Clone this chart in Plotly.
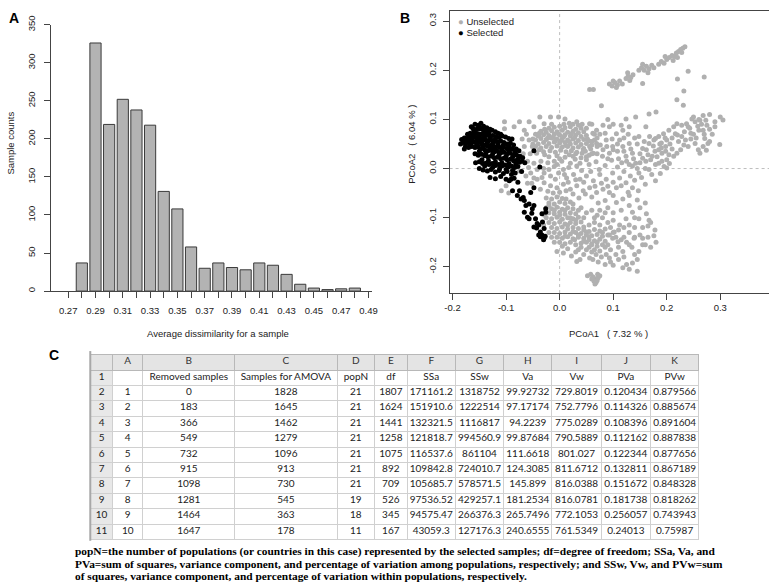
import plotly.graph_objects as go

W, H = 775, 587

# ---------------- Panel A data ----------------
bin_centers = [0.28, 0.29, 0.30, 0.31, 0.32, 0.33, 0.34, 0.35, 0.36, 0.37, 0.38,
               0.39, 0.40, 0.41, 0.42, 0.43, 0.44, 0.45, 0.46, 0.47, 0.48]
sample_counts = [37, 326, 219, 252, 238, 218, 131, 108, 58, 30, 37,
                 31, 28, 37, 34, 22, 9, 4, 2, 3, 4]
hist_tick_vals = [0.27, 0.28, 0.29, 0.30, 0.31, 0.32, 0.33, 0.34, 0.35, 0.36, 0.37, 0.38,
                  0.39, 0.40, 0.41, 0.42, 0.43, 0.44, 0.45, 0.46, 0.47, 0.48, 0.49]
hist_tick_text = ["0.27", "", "0.29", "", "0.31", "", "0.33", "", "0.35", "", "0.37", "",
                  "0.39", "", "0.41", "", "0.43", "", "0.45", "", "0.47", "", "0.49"]
count_ticks = [0, 50, 100, 150, 200, 250, 300, 350]

# ---------------- Panel B data ----------------
selected_pts = [
    (-0.165, 0.085), (-0.158, 0.09), (-0.152, 0.088), (-0.147, 0.092), (-0.142, 0.086), (-0.136, 0.083),
    (-0.13, 0.08), (-0.16, 0.078), (-0.155, 0.08), (-0.149, 0.081), (-0.143, 0.079), (-0.138, 0.076),
    (-0.132, 0.073), (-0.126, 0.078), (-0.12, 0.075), (-0.115, 0.072), (-0.11, 0.07),
    (-0.172, 0.07), (-0.167, 0.072), (-0.162, 0.07), (-0.157, 0.073), (-0.152, 0.071), (-0.147, 0.07),
    (-0.142, 0.071), (-0.137, 0.068), (-0.131, 0.066), (-0.125, 0.067), (-0.119, 0.065), (-0.113, 0.063),
    (-0.107, 0.066), (-0.101, 0.064), (-0.095, 0.061), (-0.089, 0.06),
    (-0.183, 0.059), (-0.178, 0.062), (-0.173, 0.06), (-0.168, 0.063), (-0.163, 0.061), (-0.158, 0.064),
    (-0.153, 0.062), (-0.148, 0.06), (-0.143, 0.062), (-0.138, 0.058), (-0.133, 0.056), (-0.128, 0.058),
    (-0.122, 0.055), (-0.116, 0.054), (-0.11, 0.056), (-0.104, 0.053), (-0.098, 0.05), (-0.092, 0.052),
    (-0.086, 0.048),
    (-0.18, 0.053), (-0.175, 0.052), (-0.17, 0.055), (-0.165, 0.052), (-0.16, 0.054), (-0.155, 0.051),
    (-0.15, 0.053), (-0.145, 0.05), (-0.14, 0.048), (-0.135, 0.046), (-0.129, 0.047), (-0.123, 0.044),
    (-0.117, 0.045), (-0.111, 0.043), (-0.105, 0.044), (-0.099, 0.041), (-0.093, 0.042), (-0.087, 0.039),
    (-0.081, 0.04), (-0.076, 0.036),
    (-0.176, 0.045), (-0.17, 0.043), (-0.164, 0.045), (-0.158, 0.043), (-0.152, 0.044), (-0.146, 0.041),
    (-0.14, 0.038), (-0.134, 0.036), (-0.128, 0.037), (-0.122, 0.034), (-0.116, 0.035), (-0.11, 0.032),
    (-0.104, 0.033), (-0.098, 0.03), (-0.092, 0.031), (-0.086, 0.028), (-0.08, 0.027), (-0.074, 0.025),
    (-0.069, 0.022),
    (-0.158, 0.03), (-0.152, 0.027), (-0.146, 0.029), (-0.14, 0.026), (-0.134, 0.024), (-0.128, 0.025),
    (-0.122, 0.022), (-0.116, 0.023), (-0.11, 0.02), (-0.104, 0.021), (-0.098, 0.018), (-0.092, 0.019),
    (-0.086, 0.016), (-0.08, 0.017), (-0.075, 0.013), (-0.07, 0.015),
    (-0.157, 0.012), (-0.15, 0.014), (-0.144, 0.01), (-0.138, 0.011), (-0.132, 0.008), (-0.126, 0.01),
    (-0.12, 0.006), (-0.114, 0.008), (-0.108, 0.005), (-0.102, 0.007), (-0.096, 0.003), (-0.09, 0.005),
    (-0.084, 0.002),
    (-0.15, 0.0), (-0.143, -0.003), (-0.135, -0.005), (-0.128, -0.002), (-0.12, -0.007), (-0.113, -0.004),
    (-0.105, -0.01), (-0.098, -0.006), (-0.09, -0.012), (-0.083, -0.009), (-0.071, -0.006),
    (-0.13, -0.018), (-0.12, -0.021), (-0.11, -0.016), (-0.1, -0.022), (-0.094, -0.025), (-0.085, -0.02),
    (-0.078, -0.028), (-0.185, 0.05), (-0.178, 0.04),
    (-0.162, 0.082), (-0.15, 0.085), (-0.14, 0.082), (-0.17, 0.065), (-0.16, 0.067), (-0.15, 0.066),
    (-0.14, 0.065), (-0.13, 0.062), (-0.12, 0.06), (-0.175, 0.057), (-0.165, 0.057), (-0.155, 0.057),
    (-0.145, 0.055), (-0.135, 0.052), (-0.125, 0.05), (-0.115, 0.049), (-0.105, 0.048), (-0.095, 0.046),
    (-0.168, 0.048), (-0.155, 0.047), (-0.143, 0.045), (-0.13, 0.041), (-0.12, 0.04), (-0.108, 0.038),
    (-0.095, 0.036), (-0.083, 0.034), (-0.15, 0.035), (-0.138, 0.031), (-0.125, 0.03), (-0.113, 0.028),
    (-0.1, 0.025), (-0.088, 0.023), (-0.077, 0.02), (-0.145, 0.018), (-0.133, 0.016), (-0.12, 0.014),
    (-0.108, 0.012), (-0.095, 0.01), (-0.082, 0.009), (-0.14, 0.005), (-0.125, 0.002), (-0.112, 0.0),
    (-0.1, -0.002), (-0.088, -0.004), (-0.078, 0.004),
    (-0.048, 0.036), (-0.037, 0.003), (-0.065, 0.012),
    (-0.088, -0.045), (-0.079, -0.055), (-0.072, -0.062), (-0.066, -0.065), (-0.063, -0.075), (-0.066, -0.089),
    (-0.06, -0.099), (-0.057, -0.102), (-0.051, -0.082), (-0.048, -0.075), (-0.045, -0.102), (-0.042, -0.112),
    (-0.039, -0.115), (-0.036, -0.129), (-0.033, -0.135), (-0.029, -0.142), (-0.029, -0.122), (-0.026, -0.082),
    (-0.033, -0.092), (-0.048, -0.039), (-0.054, -0.049), (-0.026, -0.089), (-0.036, -0.139), (-0.039, -0.135),
    (-0.048, -0.119), (-0.043, -0.121), (-0.075, -0.045), (-0.068, -0.059), (-0.057, -0.072), (-0.052, -0.091),
    (-0.032, -0.109), (-0.091, -0.022), (-0.03, -0.145), (-0.027, -0.138),
]

unselected_pts = [
    # central cluster
    (-0.01, 0.084), (0.0, 0.086), (0.01, 0.083), (0.02, 0.085), (-0.02, 0.082), (0.03, 0.08),
    (-0.035, 0.076), (-0.025, 0.074), (-0.015, 0.077), (-0.005, 0.075), (0.005, 0.078), (0.015, 0.074),
    (0.025, 0.076), (0.035, 0.073), (0.045, 0.075),
    (-0.04, 0.066), (-0.03, 0.069), (-0.02, 0.067), (-0.01, 0.07), (0.0, 0.068), (0.01, 0.069),
    (0.02, 0.066), (0.03, 0.068), (0.04, 0.065), (0.05, 0.067),
    (-0.045, 0.058), (-0.035, 0.061), (-0.025, 0.059), (-0.015, 0.062), (-0.005, 0.06), (0.005, 0.061),
    (0.015, 0.058), (0.025, 0.06), (0.035, 0.057), (0.045, 0.059), (0.055, 0.056),
    (-0.04, 0.05), (-0.03, 0.053), (-0.02, 0.051), (-0.01, 0.054), (0.0, 0.052), (0.01, 0.053),
    (0.02, 0.05), (0.03, 0.052), (0.04, 0.049), (0.05, 0.051), (0.06, 0.048),
    (-0.035, 0.042), (-0.025, 0.045), (-0.015, 0.043), (-0.005, 0.046), (0.005, 0.044), (0.015, 0.045),
    (0.025, 0.042), (0.035, 0.044), (0.045, 0.041),
    (-0.03, 0.034), (-0.018, 0.036), (-0.008, 0.033), (0.002, 0.037), (0.012, 0.034), (0.022, 0.036),
    (0.032, 0.033), (0.042, 0.031),
    (-0.02, 0.024), (-0.005, 0.026), (0.01, 0.023), (0.025, 0.025), (0.04, 0.022), (0.055, 0.027),
    (-0.012, 0.064), (0.008, 0.065), (0.018, 0.055), (-0.008, 0.056), (0.012, 0.047), (-0.002, 0.071),
    (0.022, 0.071), (0.028, 0.063), (-0.022, 0.062), (0.003, 0.057),
    (-0.038, 0.072), (-0.028, 0.08), (0.008, 0.09), (0.018, 0.092), (0.04, 0.082), (0.052, 0.06),
    (0.06, 0.055), (-0.045, 0.045), (-0.038, 0.038), (0.048, 0.035), (0.058, 0.04), (0.065, 0.058),
    (-0.028, 0.028), (0.018, 0.028), (0.03, 0.03),
    (-0.045, 0.07), (-0.05, 0.06), (-0.05, 0.05), (0.065, 0.07), (0.07, 0.045), (0.06, 0.03),
    (0.05, 0.024), (-0.01, 0.015), (0.0, 0.02), (-0.015, 0.09), (0.025, 0.09), (0.035, 0.088),
    # left sparse
    (-0.057, 0.095), (-0.066, 0.078), (-0.048, 0.085), (-0.039, 0.068), (-0.057, 0.058), (-0.066, 0.045),
    (-0.051, 0.045), (-0.043, 0.031), (-0.06, 0.015), (-0.048, 0.011), (-0.042, -0.002), (-0.054, -0.009),
    (-0.048, -0.019), (-0.063, -0.015), (-0.075, -0.005), (-0.109, -0.045), (-0.103, 0.095), (-0.085, 0.085),
    (-0.103, 0.081), (-0.075, 0.095), (-0.029, 0.091), (-0.037, 0.105), (-0.042, -0.022),
    (-0.07, 0.06), (-0.062, 0.07), (-0.055, 0.03), (-0.068, 0.03), (-0.058, 0.002), (-0.035, 0.015),
    (-0.03, 0.0), (-0.033, -0.018), (-0.06, -0.03), (-0.052, -0.03), (-0.1, -0.035), (-0.095, -0.05),
    # above central
    (-0.017, 0.105), (-0.002, 0.105), (0.01, 0.101), (0.032, 0.095), (0.056, 0.161), (0.063, 0.161),
    (0.078, 0.128), (0.056, 0.091), (0.069, 0.078), (0.081, 0.088), (0.093, 0.085), (0.106, 0.071),
    (0.124, 0.101), (0.142, 0.105), (0.13, 0.085), (0.167, 0.111), (0.161, 0.085), (0.148, 0.065),
    (0.09, 0.1), (0.1, 0.09), (0.115, 0.088), (0.075, 0.07), (0.085, 0.072), (0.098, 0.06),
    (0.062, 0.072), (0.07, 0.062), (0.076, 0.048), (0.088, 0.045), (0.042, 0.09), (0.05, 0.082),
    (0.06, 0.09),
    # right band
    (0.305, 0.099), (0.28, 0.11), (0.268, 0.108), (0.262, 0.098), (0.253, 0.095), (0.247, 0.101),
    (0.237, 0.091), (0.228, 0.088), (0.219, 0.091), (0.213, 0.085), (0.204, 0.078), (0.194, 0.071),
    (0.185, 0.065), (0.179, 0.061), (0.216, 0.071), (0.228, 0.065), (0.268, 0.078), (0.271, 0.061),
    (0.277, 0.051), (0.299, 0.049), (0.268, 0.045), (0.259, 0.038), (0.262, 0.031), (0.274, 0.037),
    (0.28, 0.055), (0.253, 0.051), (0.24, 0.045), (0.198, 0.045), (0.191, 0.031), (0.204, 0.028),
    (0.213, 0.025), (0.219, 0.031), (0.2, 0.018), (0.191, 0.015), (0.185, 0.011), (0.179, 0.008),
    (0.17, 0.018), (0.161, 0.015), (0.155, 0.021), (0.142, 0.011), (0.136, 0.005), (0.13, 0.008),
    (0.2, 0.001), (0.179, -0.025), (0.167, -0.002), (0.148, -0.009), (0.173, 0.025), (0.185, 0.038),
    (0.167, 0.051), (0.155, 0.041), (0.136, 0.031), (0.124, 0.025), (0.118, 0.045), (0.13, 0.051),
    (0.112, 0.058), (0.099, 0.045), (0.093, 0.031), (0.081, 0.038), (0.087, 0.058), (0.069, 0.051),
    (0.063, 0.031), (0.056, 0.045), (0.044, 0.038), (0.05, 0.018), (0.038, 0.011), (0.032, 0.005),
    (0.02, 0.011), (0.007, -0.002), (-0.005, 0.008),
    (0.108, 0.035), (0.12, 0.062), (0.133, 0.04), (0.145, 0.05), (0.15, 0.03), (0.162, 0.038),
    (0.175, 0.046), (0.182, 0.024), (0.19, 0.052), (0.197, 0.062), (0.206, 0.05), (0.21, 0.04),
    (0.222, 0.055), (0.233, 0.075), (0.243, 0.082), (0.25, 0.07), (0.258, 0.086), (0.265, 0.09),
    (0.273, 0.098), (0.29, 0.085), (0.285, 0.07), (0.245, 0.06), (0.232, 0.048), (0.226, 0.038),
    (0.195, 0.004), (0.188, -0.01), (0.172, -0.012), (0.16, 0.0), (0.145, 0.0), (0.205, 0.01),
    (0.25, 0.105), (0.26, 0.1),
    (0.11, 0.02), (0.125, 0.015), (0.138, 0.02), (0.15, 0.012), (0.165, 0.028), (0.178, 0.035),
    (0.19, 0.042), (0.2, 0.058), (0.21, 0.062), (0.22, 0.068), (0.235, 0.058), (0.245, 0.072),
    (0.255, 0.062), (0.27, 0.07), (0.28, 0.08), (0.29, 0.095), (0.3, 0.105), (0.275, 0.088),
    (0.26, 0.078), (0.24, 0.085), (0.198, 0.035), (0.187, 0.05), (0.176, 0.058), (0.168, 0.065),
    (0.158, 0.055), (0.14, 0.062), (0.128, 0.07), (0.118, 0.078), (0.108, 0.05), (0.1, 0.038),
    (0.09, 0.02), (0.08, 0.025), (0.07, 0.03), (0.12, 0.035),
    # middle sparse
    (-0.029, -0.009), (-0.017, -0.015), (-0.002, -0.009), (0.013, -0.019), (0.026, -0.012), (0.038, -0.022),
    (0.05, -0.015), (0.063, -0.025), (0.075, -0.012), (0.087, -0.022), (0.099, -0.009), (0.112, -0.019),
    (0.124, -0.029), (0.106, -0.039), (0.093, -0.049), (0.081, -0.042), (0.069, -0.049), (0.056, -0.039),
    (0.044, -0.045), (0.032, -0.035), (0.02, -0.042), (0.007, -0.032), (-0.005, -0.039), (-0.017, -0.035),
    (-0.029, -0.029), (-0.036, -0.042), (0.136, -0.039), (0.145, -0.064), (0.13, -0.055), (0.118, -0.062),
    (0.106, -0.069),
    (-0.022, 0.012), (-0.01, 0.004), (0.004, 0.015), (0.017, 0.002), (0.029, 0.019), (0.041, -0.004),
    (0.055, 0.008), (0.068, 0.014), (0.074, -0.002), (0.085, 0.006), (0.097, 0.017), (0.108, 0.003),
    (0.116, 0.012), (0.12, -0.006), (0.132, -0.015), (0.14, -0.024), (0.153, -0.018), (0.16, -0.032),
    (0.147, -0.045), (0.128, -0.048), (0.115, -0.035), (0.1, -0.028), (0.09, -0.036), (0.078, -0.03),
    (0.066, -0.036), (0.06, -0.058), (0.048, -0.052), (0.036, -0.06), (0.025, -0.052), (0.012, -0.045),
    (0.0, -0.048), (-0.012, -0.05), (-0.022, -0.046), (0.016, -0.028), (0.03, -0.023), (0.045, -0.028),
    (0.058, -0.006), (0.009, -0.012), (-0.008, -0.022), (-0.02, -0.002),
    # lower cluster
    (-0.025, -0.06), (-0.015, -0.062), (-0.005, -0.058), (0.005, -0.061), (-0.02, -0.07), (-0.01, -0.072),
    (0.0, -0.068), (0.01, -0.071), (0.02, -0.068), (-0.025, -0.08), (-0.015, -0.082), (-0.005, -0.079),
    (0.005, -0.083), (0.015, -0.08), (0.025, -0.082), (-0.02, -0.09), (-0.01, -0.092), (0.0, -0.089),
    (0.01, -0.093), (0.02, -0.09), (0.03, -0.092), (-0.025, -0.1), (-0.015, -0.102), (-0.005, -0.099),
    (0.005, -0.103), (0.015, -0.1), (0.025, -0.102), (0.035, -0.099), (-0.02, -0.11), (-0.01, -0.112),
    (0.0, -0.109), (0.01, -0.113), (0.02, -0.11), (0.03, -0.112), (0.04, -0.109), (-0.015, -0.12),
    (-0.005, -0.122), (0.005, -0.119), (0.015, -0.123), (0.025, -0.12), (0.035, -0.122), (0.045, -0.119),
    (-0.01, -0.13), (0.0, -0.132), (0.01, -0.129), (0.02, -0.133), (0.03, -0.13), (0.04, -0.132),
    (0.05, -0.129), (-0.005, -0.14), (0.005, -0.142), (0.015, -0.139), (0.025, -0.143), (0.035, -0.14),
    (0.045, -0.142), (0.055, -0.139), (0.0, -0.15), (0.01, -0.153), (0.02, -0.15), (0.03, -0.155),
    (0.04, -0.152), (0.05, -0.15), (0.06, -0.153), (0.015, -0.163), (0.035, -0.165), (0.045, -0.175),
    (-0.005, -0.169), (0.007, -0.172), (0.032, -0.189), (0.038, -0.185), (0.056, -0.182),
    (0.045, -0.125), (0.055, -0.128), (0.065, -0.124), (0.075, -0.127), (0.085, -0.123), (0.05, -0.135),
    (0.06, -0.137), (0.07, -0.134), (0.08, -0.138), (0.09, -0.135), (0.055, -0.145), (0.065, -0.147),
    (0.075, -0.144), (0.085, -0.148), (0.06, -0.155), (0.07, -0.158), (0.08, -0.155), (0.065, -0.165),
    (0.075, -0.168), (0.068, -0.175), (0.062, -0.185), (0.072, -0.19), (0.055, -0.16),
    (0.04, -0.08), (0.05, -0.09), (0.06, -0.085), (0.07, -0.095), (0.08, -0.1), (0.09, -0.11),
    (0.1, -0.105), (0.095, -0.12), (0.1, -0.13), (0.11, -0.125), (0.105, -0.14), (0.115, -0.145),
    (0.12, -0.12), (0.13, -0.13), (0.125, -0.15), (0.135, -0.16), (0.14, -0.14), (0.15, -0.135),
    (0.167, -0.105), (0.165, -0.117), (0.176, -0.137), (0.155, -0.142), (0.148, -0.169), (0.145, -0.209),
    (0.136, -0.192), (0.118, -0.202), (0.1, -0.197), (0.118, -0.169), (0.139, -0.142), (0.13, -0.155),
    (0.148, -0.102), (0.162, -0.092), (0.136, -0.089), (0.124, -0.102), (0.112, -0.115), (0.102, -0.129),
    (0.093, -0.135), (0.09, -0.155), (0.099, -0.142), (0.109, -0.149), (0.093, -0.182), (0.087, -0.175),
    (-0.02, -0.13), (-0.01, -0.15), (-0.028, -0.095), (-0.03, -0.115),
    (-0.02, -0.075), (-0.01, -0.085), (0.0, -0.095), (0.01, -0.085), (0.02, -0.1), (0.03, -0.105),
    (0.015, -0.115), (0.025, -0.128), (0.035, -0.135), (0.045, -0.148), (0.05, -0.165), (0.06, -0.17),
    (0.07, -0.15), (0.08, -0.13), (0.085, -0.16), (0.078, -0.18), (0.095, -0.165), (0.11, -0.16),
    (0.12, -0.18), (0.13, -0.115), (0.14, -0.12), (0.155, -0.12), (0.16, -0.155), (0.17, -0.11),
    (0.178, -0.125), (0.145, -0.185), (0.105, -0.175), (0.125, -0.195), (0.03, -0.17), (0.022, -0.178),
    (0.005, -0.158), (-0.015, -0.14), (0.01, -0.138), (0.028, -0.145), (0.04, -0.16), (0.055, -0.115),
    (0.065, -0.11), (0.075, -0.115), (0.065, -0.1), (0.045, -0.1), (0.035, -0.085), (0.025, -0.072),
    (0.012, -0.062),
    (0.115, -0.085), (0.13, -0.075), (0.15, -0.08), (0.16, -0.07), (0.14, -0.1), (0.155, -0.155),
    (0.165, -0.14), (0.14, -0.175), (0.12, -0.14), (0.11, -0.185), (0.095, -0.19), (0.085, -0.195),
    (0.13, -0.205), (0.17, -0.16), (0.18, -0.15), (0.09, -0.08), (0.1, -0.09), (0.085, -0.09),
    (0.075, -0.085), (0.072, -0.07), (0.085, -0.065), (0.1, -0.055),
    # bottom cluster
    (0.052, -0.218), (0.058, -0.215), (0.062, -0.22), (0.066, -0.224), (0.07, -0.228), (0.072, -0.222),
    (0.068, -0.232), (0.075, -0.218), (0.064, -0.229), (0.06, -0.225), (0.071, -0.215), (0.066, -0.235),
    # upper right band
    (0.093, 0.172), (0.098, 0.168), (0.103, 0.175), (0.108, 0.17), (0.112, 0.178), (0.117, 0.172),
    (0.1, 0.178), (0.106, 0.165), (0.124, 0.183), (0.128, 0.188), (0.133, 0.185), (0.137, 0.191),
    (0.131, 0.179), (0.127, 0.195), (0.148, 0.2), (0.153, 0.205), (0.158, 0.2), (0.162, 0.208),
    (0.167, 0.203), (0.172, 0.21), (0.176, 0.205), (0.155, 0.212), (0.165, 0.195), (0.185, 0.212),
    (0.19, 0.218), (0.195, 0.214), (0.2, 0.222), (0.205, 0.226), (0.21, 0.23), (0.215, 0.228),
    (0.218, 0.235), (0.222, 0.238), (0.226, 0.242), (0.23, 0.245), (0.234, 0.248), (0.228, 0.236),
    (0.212, 0.22), (0.197, 0.228), (0.22, 0.226),
    (0.24, 0.198), (0.27, 0.186), (0.22, 0.182), (0.232, 0.158), (0.219, 0.14), (0.231, 0.129),
    (0.155, 0.173), (0.18, 0.115),
]
pcoa_ticks = [-0.2, -0.1, 0.0, 0.1, 0.2, 0.3]
pcoa_tick_text = ["-0.2", "-0.1", "0.0", "0.1", "0.2", "0.3"]

# ---------------- Panel C data ----------------
col_letters = ["", "A", "B", "C", "D", "E", "F", "G", "H", "I", "J", "K"]
row_numbers = ["1", "2", "3", "4", "5", "6", "7", "8", "9", "10", "11"]
header_names = ["", "Removed samples", "Samples for AMOVA", "popN", "df",
                "SSa", "SSw", "Va", "Vw", "PVa", "PVw"]
run_ids = ["1", "2", "3", "4", "5", "6", "7", "8", "9", "10"]
removed = ["0", "183", "366", "549", "732", "915", "1098", "1281", "1464", "1647"]
amova_n = ["1828", "1645", "1462", "1279", "1096", "913", "730", "545", "363", "178"]
pop_n = ["21", "21", "21", "21", "21", "21", "21", "19", "18", "11"]
dfree = ["1807", "1624", "1441", "1258", "1075", "892", "709", "526", "345", "167"]
ssa = ["171161.2", "151910.6", "132321.5", "121818.7", "116537.6", "109842.8",
       "105685.7", "97536.52", "94575.47", "43059.3"]
ssw = ["1318752", "1222514", "1116817", "994560.9", "861104", "724010.7",
       "578571.5", "429257.1", "266376.3", "127176.3"]
va = ["99.92732", "97.17174", "94.2239", "99.87684", "111.6618", "124.3085",
      "145.899", "181.2534", "265.7496", "240.6555"]
vw = ["729.8019", "752.7796", "775.0289", "790.5889", "801.027", "811.6712",
      "816.0388", "816.0781", "772.1053", "761.5349"]
pva = ["0.120434", "0.114326", "0.108396", "0.112162", "0.122344", "0.132811",
       "0.151672", "0.181738", "0.256057", "0.24013"]
pvw = ["0.879566", "0.885674", "0.891604", "0.887838", "0.877656", "0.867189",
       "0.848328", "0.818262", "0.743943", "0.75987"]

caption_lines = [
    "popN=the number of populations (or countries in this case) represented by the selected samples; df=degree of freedom; SSa, Va, and",
    "PVa=sum of squares, variance component, and percentage of variation among populations, respectively; and SSw, Vw, and PVw=sum",
    "of squares, variance component, and percentage of variation within populations, respectively.",
]


def px(x):
    return x / W


def py(y):
    return 1 - y / H


SANS = "Liberation Sans, Arial, sans-serif"
TICKF = dict(family=SANS, size=9.5, color="#222")

fig = go.Figure()

fig.add_trace(go.Bar(
    x=bin_centers, y=sample_counts, width=0.0082,
    marker=dict(color="#b3b3b3", line=dict(color="#3a3a3a", width=1)),
    xaxis="x", yaxis="y", showlegend=False,
))

fig.add_trace(go.Scatter(
    x=[p[0] for p in unselected_pts], y=[p[1] for p in unselected_pts],
    mode="markers", marker=dict(color="#b0b0b0", size=5, line=dict(width=0)),
    xaxis="x2", yaxis="y2", showlegend=False, name="Unselected",
))
fig.add_trace(go.Scatter(
    x=[p[0] for p in selected_pts], y=[p[1] for p in selected_pts],
    mode="markers", marker=dict(color="#000000", size=5, line=dict(width=0)),
    xaxis="x2", yaxis="y2", showlegend=False, name="Selected",
))

nb = lambda s: s.replace(" ", "\u00a0")
cell_cols = [row_numbers] + [
    [nb(header_names[i])] + col
    for i, col in enumerate([run_ids, removed, amova_n, pop_n, dfree,
                             ssa, ssw, va, vw, pva, pvw])
]
blank_cols = [["" for _ in col] for col in cell_cols]
col_w = [22, 31, 93, 104, 38, 33, 49, 49, 49, 50, 50, 49]
TFONT = "Lato, sans-serif"
# grid and fills (no text)
fig.add_trace(go.Table(
    domain=dict(x=[px(87), px(704)], y=[py(541), py(351)]),
    columnwidth=col_w,
    header=dict(
        values=["" for _ in col_letters], height=16, align="center",
        fill=dict(color="#e4e4e4"), line=dict(color="#b8b8b8", width=1),
        font=dict(family=TFONT, size=10, color="#333"),
    ),
    cells=dict(
        values=blank_cols, height=15.4, align="center",
        fill=dict(color=["#e8e8e8"] + ["#ffffff"] * 11),
        line=dict(color="#d0d0d0", width=1),
        font=dict(family=TFONT, size=10, color="#222"),
    ),
))
# text layer, lifted so the text sits centred in each cell
LIFT = 6
fig.add_trace(go.Table(
    domain=dict(x=[px(87), px(704)], y=[py(541 - LIFT), py(351 - LIFT)]),
    columnwidth=col_w,
    header=dict(
        values=col_letters, height=16, align="center",
        fill=dict(color="rgba(0,0,0,0)"), line=dict(color="rgba(0,0,0,0)", width=0),
        font=dict(family=TFONT, size=10, color="#333"),
    ),
    cells=dict(
        values=cell_cols, height=15.4, align="center",
        fill=dict(color="rgba(0,0,0,0)"), line=dict(color="rgba(0,0,0,0)", width=0),
        font=dict(family=TFONT, size=10, color="#222"),
    ),
))

fig.update_layout(
    width=W, height=H, margin=dict(l=0, r=0, t=0, b=0),
    paper_bgcolor="white", plot_bgcolor="white",
    xaxis=dict(domain=[px(47), px(372)], range=[0.25765, 0.49237], anchor="y",
               tickvals=hist_tick_vals, ticktext=hist_tick_text, ticks="outside",
               ticklen=6, tickcolor="#444", showline=True, linecolor="#444",
               showgrid=False, zeroline=False, tickfont=TICKF, ticklabelstandoff=4),
    yaxis=dict(domain=[py(287), py(16)], range=[0, 350], anchor="x",
               tickvals=count_ticks, ticks="outside", ticklen=6, tickcolor="#444",
               showline=True, linecolor="#444", showgrid=False, zeroline=False,
               tickangle=-90, tickfont=TICKF, ticklabelstandoff=6),
    xaxis2=dict(domain=[px(451), 1.0], range=[-0.2055, 0.391], anchor="y2",
                tickvals=pcoa_ticks, ticktext=pcoa_tick_text, ticks="outside",
                ticklen=6, tickcolor="#444", showline=True, mirror=True,
                linecolor="#444", showgrid=False, zeroline=False, tickfont=TICKF),
    yaxis2=dict(domain=[py(289), py(2)], range=[-0.2534, 0.3206], anchor="x2",
                tickvals=pcoa_ticks, ticktext=pcoa_tick_text, ticks="outside",
                ticklen=6, tickcolor="#444", showline=True, linecolor="#444",
                showgrid=False, zeroline=False, tickangle=-90, tickfont=TICKF,
                ticklabelstandoff=3),
    shapes=[
        dict(type="line", xref="x2", yref="y2 domain", x0=0, x1=0, y0=0, y1=1,
             line=dict(color="#bdbdbd", width=1, dash="dot"), layer="below"),
        dict(type="line", xref="x2 domain", yref="y2", x0=0, x1=1, y0=0, y1=0,
             line=dict(color="#bdbdbd", width=1, dash="dot"), layer="below"),
        dict(type="line", xref="paper", yref="paper", x0=px(86.5), x1=px(86.5),
             y0=py(541), y1=py(348), line=dict(color="#a8a8a8", width=2)),
    ],
)

ann = []


def add_text(text, x, y, size=9.5, bold=False, angle=0, family=SANS, xanchor="center", color="#222"):
    ann.append(dict(text=("<b>%s</b>" % text) if bold else text, x=px(x), y=py(y),
                    xref="paper", yref="paper", showarrow=False, textangle=angle,
                    xanchor=xanchor, yanchor="middle",
                    font=dict(family=family, size=size, color=color)))


add_text("A", 9, 9, size=14, bold=True, family=SANS, color="#000")
add_text("B", 406, 9, size=14, bold=True, family=SANS, color="#000")
add_text("C", 50, 352, size=14, bold=True, family=SANS, color="#000")
add_text("Average dissimilarity for a sample", 216, 330)
add_text("Sample counts", 6, 136, angle=-90)
add_text("PCoA1\u00a0\u00a0 ( 7.32 % )", 612, 330)
add_text("PCoA2\u00a0\u00a0 ( 6.04 % )", 413, 138, angle=-90)
add_text("<span style='color:#b0b0b0'>\u25cf</span> Unselected", 457.5, 13, xanchor="left")
add_text("<span style='color:#000000'>\u25cf</span> Selected", 457.5, 24, xanchor="left")
for i, line in enumerate(caption_lines):
    add_text(line, 69, 552 + 12.3 * i, size=11.4, bold=True,
             family="Liberation Serif, Times New Roman, serif", xanchor="left", color="#000")

fig.update_layout(annotations=ann)

fig.write_html(
    "out.html",
    config={"displayModeBar": False, "staticPlot": True},
    post_script="document.body.style.margin='0px';document.body.style.overflow='hidden';",
)
